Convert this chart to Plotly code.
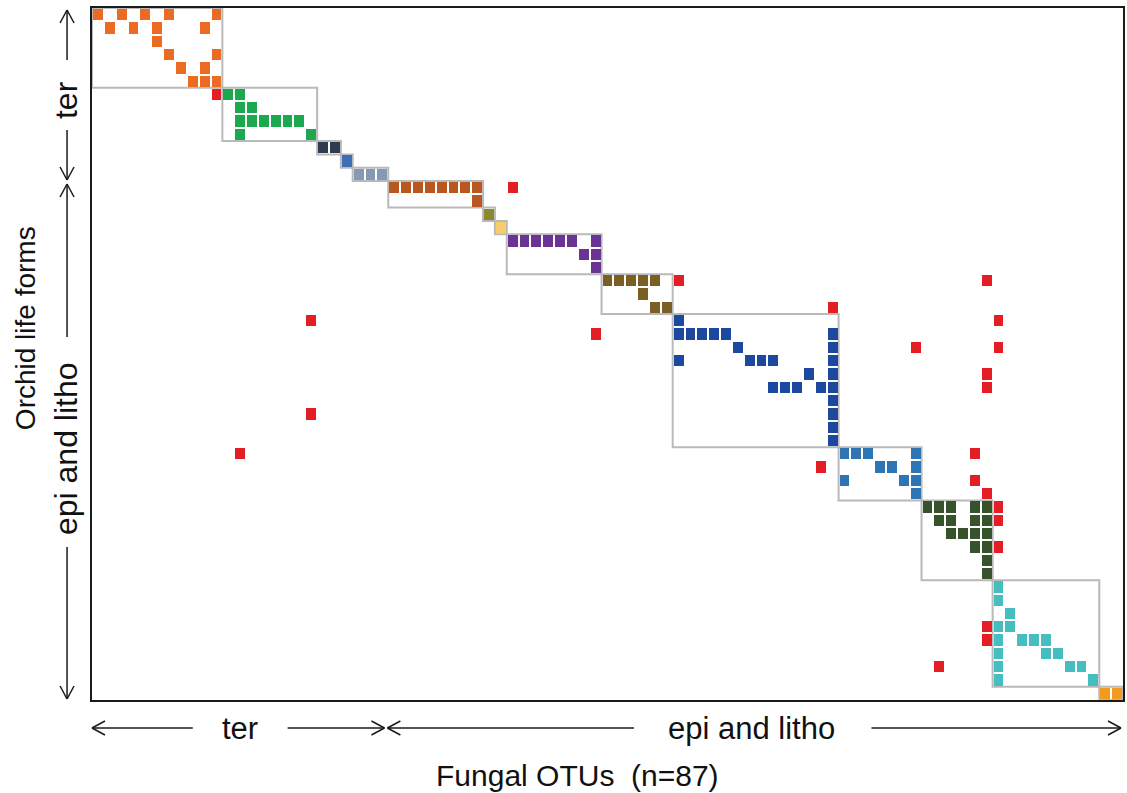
import plotly.graph_objects as go

# ---------------- data: (row = orchid species, col = fungal OTU) ----------------
N_ROWS = 52
N_COLS = 87

orange_cells = [(0, 0), (0, 2), (0, 4), (0, 6), (0, 10), (1, 1), (1, 3), (1, 5), (1, 9), (2, 5),
                (3, 6), (3, 10), (4, 7), (4, 9), (5, 8), (5, 9), (5, 10)]
green_cells = [(6, 11), (6, 12), (7, 12), (7, 13), (8, 12), (8, 13), (8, 14), (8, 15), (8, 16),
               (8, 17), (9, 12), (9, 18)]
navy_cells = [(10, 19), (10, 20)]
blue_cells = [(11, 21)]
greyblue_cells = [(12, 22), (12, 23), (12, 24)]
brown_cells = [(13, 25), (13, 26), (13, 27), (13, 28), (13, 29), (13, 30), (13, 31), (13, 32), (14, 32)]
olive_cells = [(15, 33)]
yellow_cells = [(16, 34)]
purple_cells = [(17, 35), (17, 36), (17, 37), (17, 38), (17, 39), (17, 40), (17, 42), (18, 41),
                (18, 42), (19, 42)]
umber_cells = [(20, 43), (20, 44), (20, 45), (20, 46), (20, 47), (21, 46), (22, 47), (22, 48)]
royal_cells = [(23, 49), (24, 49), (24, 50), (24, 51), (24, 52), (24, 53), (25, 54), (26, 49),
               (26, 55), (26, 56), (26, 57), (27, 60), (28, 57), (28, 58), (28, 59), (28, 61),
               (24, 62), (25, 62), (26, 62), (27, 62), (28, 62), (29, 62), (30, 62), (31, 62), (32, 62)]
steel_cells = [(33, 63), (33, 64), (33, 65), (33, 69), (34, 66), (34, 67), (34, 69), (35, 63),
               (35, 68), (35, 69), (36, 69)]
forest_cells = [(37, 70), (37, 71), (37, 72), (37, 74), (37, 75), (38, 71), (38, 72), (38, 74),
                (38, 75), (39, 72), (39, 73), (39, 74), (39, 75), (40, 74), (40, 75), (41, 75), (42, 75)]
cyan_cells = [(43, 76), (44, 76), (45, 77), (46, 76), (46, 77), (47, 76), (47, 78), (47, 79),
              (47, 80), (48, 76), (48, 80), (48, 81), (49, 76), (49, 82), (49, 83), (50, 76), (50, 84)]
amber_cells = [(51, 85), (51, 86)]
red_cells = [(6, 10), (13, 35), (20, 49), (20, 75), (22, 62), (23, 18), (23, 76), (24, 42),
             (25, 69), (25, 76), (27, 75), (28, 75), (30, 18), (33, 12), (33, 74), (34, 61),
             (35, 74), (36, 75), (37, 76), (38, 76), (40, 76), (46, 75), (47, 75), (49, 71)]

modules = [orange_cells, green_cells, navy_cells, blue_cells, greyblue_cells, brown_cells,
           olive_cells, yellow_cells, purple_cells, umber_cells, royal_cells, steel_cells,
           forest_cells, cyan_cells, amber_cells]
module_colors = ["#EC6B23", "#1BA84F", "#2F3B4F", "#3F6EB5", "#8598B5", "#B85720",
                 "#8A8A2C", "#F6CF6B", "#6B3494", "#7A5E24", "#1D48A0", "#2E75B6",
                 "#36532B", "#46BEC0", "#F29B1F"]
red_color = "#E31E24"

x_labels = ["ter", "epi and litho"]
y_labels = ["ter", "epi and litho"]

# ---------------- build figure ----------------
groups = modules + [red_cells]
colors = module_colors + [red_color]
n = len(groups)

z = [[None] * N_COLS for _ in range(N_ROWS)]
for k, cells in enumerate(groups):
    for r, c in cells:
        z[r][c] = k + 0.5

colorscale = []
for k, col in enumerate(colors):
    colorscale.append([k / n, col])
    colorscale.append([(k + 1) / n, col])

fig = go.Figure()
fig.add_trace(go.Heatmap(
    z=z,
    x=[c + 0.5 for c in range(N_COLS)],
    y=[r + 0.5 for r in range(N_ROWS)],
    zmin=0, zmax=n, colorscale=colorscale, showscale=False,
    xgap=2, ygap=2, hoverinfo="skip",
))

shapes = []
# module boxes from cell extents
for cells in modules:
    rows = [r for r, _ in cells]
    cols = [c for _, c in cells]
    shapes.append(dict(type="rect", xref="x", yref="y", layer="below",
                       x0=min(cols), x1=max(cols) + 1, y0=min(rows), y1=max(rows) + 1,
                       line=dict(color="#B9B9B9", width=2), fillcolor="rgba(0,0,0,0)"))

# pixel -> paper helpers for decorations
L, R, T, B = 92, 1125, 8, 700
def P(px):
    return (px - L) / (R - L)
def Q(py):
    return (B - py) / (B - T)

ARROW = dict(color="#1a1a1a", width=1.5)
def seg(x0, y0, x1, y1):
    shapes.append(dict(type="line", xref="paper", yref="paper",
                       x0=P(x0), y0=Q(y0), x1=P(x1), y1=Q(y1), line=ARROW))

def chevron(x, y, direction, a=13, w=7):
    if direction == "left":
        seg(x, y, x + a, y - w); seg(x, y, x + a, y + w)
    elif direction == "right":
        seg(x, y, x - a, y - w); seg(x, y, x - a, y + w)
    elif direction == "up":
        seg(x, y, x - w, y + a); seg(x, y, x + w, y + a)
    else:
        seg(x, y, x - w, y - a); seg(x, y, x + w, y - a)

# bottom arrows
by = 728
seg(92, by, 193, by); chevron(92, by, "left")
seg(288, by, 385, by); chevron(385, by, "right")
seg(388, by, 635, by); chevron(388, by, "left")
seg(873, by, 1123, by); chevron(1123, by, "right")
# left arrows
lx = 67
seg(lx, 10, lx, 60); chevron(lx, 10, "up")
seg(lx, 130, lx, 180); chevron(lx, 180, "down")
seg(lx, 184, lx, 337); chevron(lx, 184, "up")
seg(lx, 547, lx, 699); chevron(lx, 699, "down")

FONT = "Liberation Sans, Arial, sans-serif"
annotations = [
    dict(text="Orchid life forms", x=P(25), y=Q(328), textangle=-90, font=dict(size=28)),
    dict(text=y_labels[0], x=P(66), y=Q(100), textangle=-90, font=dict(size=32)),
    dict(text=y_labels[1], x=P(66), y=Q(449), textangle=-90, font=dict(size=32)),
    dict(text=x_labels[0], x=P(240), y=Q(728), font=dict(size=31)),
    dict(text=x_labels[1], x=P(753), y=Q(728), font=dict(size=31)),
    dict(text="Fungal OTUs  (n=87)", x=P(578), y=Q(775), font=dict(size=30)),
]
for a in annotations:
    a.update(xref="paper", yref="paper", showarrow=False, xanchor="center", yanchor="middle")
    a["font"].update(family=FONT, color="#111111")

fig.update_layout(
    width=1127, height=793,
    margin=dict(l=L, r=1127 - R, t=T, b=793 - B),
    paper_bgcolor="white", plot_bgcolor="white",
    shapes=shapes, annotations=annotations,
    showlegend=False,
)
fig.update_xaxes(range=[0, N_COLS], showticklabels=False, ticks="", showgrid=False, zeroline=False,
                 showline=True, mirror=True, linecolor="#1a1a1a", linewidth=2)
fig.update_yaxes(range=[N_ROWS, 0], showticklabels=False, ticks="", showgrid=False, zeroline=False,
                 showline=True, mirror=True, linecolor="#1a1a1a", linewidth=2)

fig.write_html("out.html")
